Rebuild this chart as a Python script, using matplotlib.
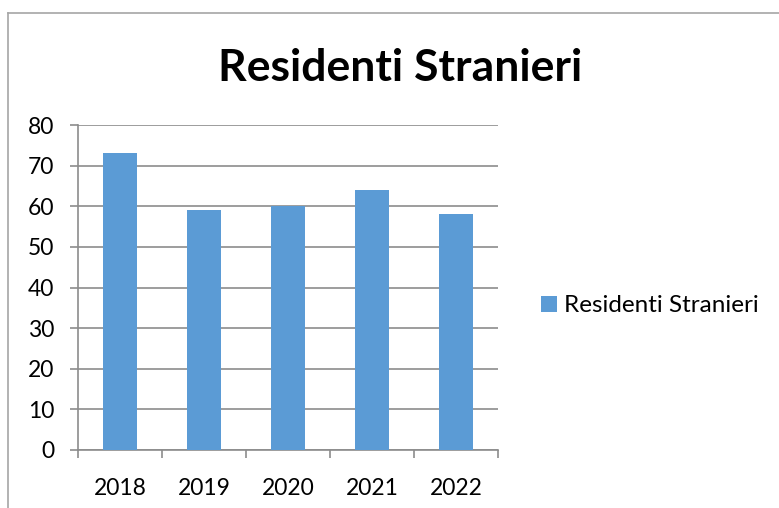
import matplotlib.pyplot as plt
from matplotlib.lines import Line2D

# Data
years = ['2018', '2019', '2020', '2021', '2022']
residents = [73, 59, 60, 64, 58]
series_name = 'Residenti Stranieri'

plt.rcParams['font.family'] = ['Lato', 'DejaVu Sans']

fig = plt.figure(figsize=(7.79, 5.08), dpi=100)
ax = fig.add_axes([78 / 779, 58 / 508, 420 / 779, 325 / 508])

x = range(len(years))
ax.bar(x, residents, width=0.4, color='#5B9BD5', label=series_name, zorder=3)

ax.set_xlim(-0.5, len(years) - 0.5)
ax.set_ylim(0, 80)
ax.set_yticks(range(0, 81, 10))
ax.set_xticks(list(x))
ax.set_xticklabels(years)
ax.set_xticks([i - 0.5 for i in range(len(years) + 1)], minor=True)

grid_col = '#8C8C8C'
ax.yaxis.grid(True, color=grid_col, linewidth=1.2, zorder=0)
for side in ['top', 'right']:
    ax.spines[side].set_visible(False)
for side in ['left', 'bottom']:
    ax.spines[side].set_color(grid_col)
    ax.spines[side].set_linewidth(1.2)

ax.tick_params(axis='y', direction='out', length=6, color=grid_col, width=1.2,
               labelsize=16.5, pad=11)
ax.tick_params(axis='x', which='major', length=0, labelsize=16.5, pad=20)
ax.tick_params(axis='x', which='minor', direction='out', length=6,
               color=grid_col, width=1.2)

fig.text(400 / 779, 1 - 68 / 508, series_name, ha='center', va='center',
         fontsize=32, fontweight='bold')

ax.legend(loc='center left', bbox_to_anchor=(531 / 779, 1 - 306 / 508),
          bbox_transform=fig.transFigure, frameon=False, fontsize=17.5,
          handlelength=0.65, handleheight=0.65, handletextpad=0.3,
          borderaxespad=0)

# outer chart frame (left and top edges)
fig.add_artist(Line2D([8 / 779, 8 / 779], [0, 1 - 13 / 508], color='#A6A6A6',
                      linewidth=1.2, transform=fig.transFigure))
fig.add_artist(Line2D([8 / 779, 1], [1 - 13 / 508, 1 - 13 / 508], color='#A6A6A6',
                      linewidth=1.2, transform=fig.transFigure))

fig.savefig('out.png', dpi=100)
